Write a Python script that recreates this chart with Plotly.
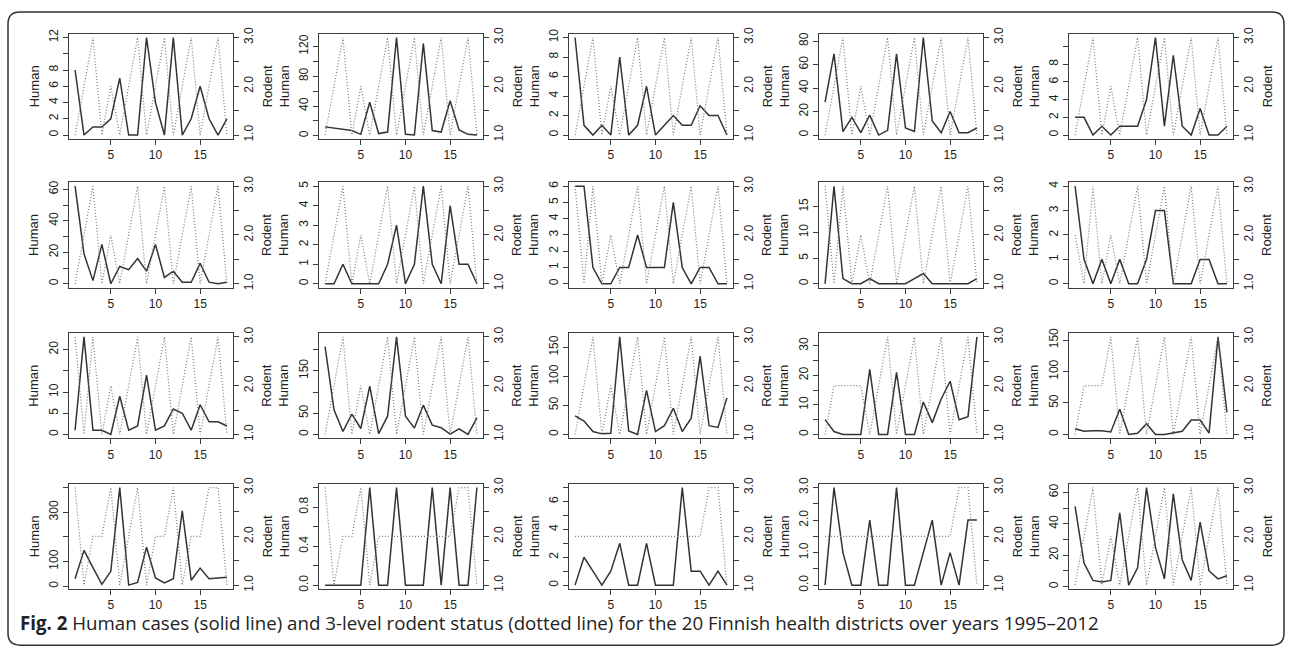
import plotly.graph_objects as go

years = list(range(1, 19))

# Human cases per district (index 1..18 = years 1995-2012)
human_01 = [8, 0, 1, 1, 2, 7, 0, 0, 12, 4, 0, 12, 0, 2, 6, 2, 0, 2]
human_02 = [12, 10, 9, 7, 2, 45, 3, 5, 132, 2, 1, 124, 7, 5, 47, 8, 2, 1]
human_03 = [10, 1, 0, 1, 0, 8, 0, 1, 5, 0, 1, 2, 1, 1, 3, 2, 2, 0]
human_04 = [28, 69, 3, 15, 2, 17, 0, 4, 69, 6, 3, 83, 12, 2, 20, 2, 2, 6]
human_05 = [2, 2, 0, 1, 0, 1, 1, 1, 4, 11, 1, 9, 1, 0, 3, 0, 0, 1]
human_06 = [62, 19, 2, 25, 0, 11, 9, 16, 8, 25, 4, 8, 1, 1, 13, 1, 0, 1]
human_07 = [0, 0, 1, 0, 0, 0, 0, 1, 3, 0, 1, 5, 1, 0, 4, 1, 1, 0]
human_08 = [6, 6, 1, 0, 0, 1, 1, 3, 1, 1, 1, 5, 1, 0, 1, 1, 0, 0]
human_09 = [0, 19, 1, 0, 0, 1, 0, 0, 0, 0, 1, 2, 0, 0, 0, 0, 0, 1]
human_10 = [4, 1, 0, 1, 0, 1, 0, 0, 1, 3, 3, 0, 0, 0, 1, 1, 0, 0]
human_11 = [1, 23, 1, 1, 0, 9, 1, 2, 14, 1, 2, 6, 5, 1, 7, 3, 3, 2]
human_12 = [207, 58, 7, 48, 14, 114, 2, 43, 230, 43, 15, 69, 22, 16, 1, 13, 0, 39]
human_13 = [32, 23, 5, 1, 2, 168, 6, 0, 76, 5, 15, 45, 5, 28, 135, 15, 12, 63]
human_14 = [5, 1, 0, 0, 0, 22, 0, 0, 21, 0, 0, 11, 4, 12, 18, 5, 6, 33]
human_15 = [9, 5, 6, 6, 4, 40, 0, 2, 17, 0, 0, 2, 5, 23, 23, 2, 155, 35]
human_16 = [30, 145, 75, 7, 60, 400, 4, 15, 158, 33, 13, 30, 305, 24, 73, 30, 33, 36]
human_17 = [0, 0, 0, 0, 0, 1, 0, 0, 1, 0, 0, 0, 1, 0, 1, 0, 0, 1]
human_18 = [0, 2, 1, 0, 1, 3, 0, 0, 3, 0, 0, 0, 7, 1, 1, 0, 1, 0]
human_19 = [0, 3, 1, 0, 0, 2, 0, 0, 3, 0, 0, 1, 2, 0, 1, 0, 2, 2]
human_20 = [51, 15, 4, 3, 4, 47, 1, 12, 63, 25, 5, 59, 17, 4, 41, 10, 5, 7]

# 3-level rodent status
rodent_01 = [1, 2, 3, 1, 2, 1, 2, 3, 1, 2, 3, 1, 2, 3, 1, 2, 3, 1]
rodent_02 = [1, 2, 3, 1, 2, 1, 2, 3, 1, 2, 3, 1, 2, 3, 1, 2, 3, 1]
rodent_03 = [1, 2, 3, 1, 2, 1, 2, 3, 1, 2, 3, 1, 2, 3, 1, 2, 3, 1]
rodent_04 = [1, 2, 3, 1, 2, 1, 2, 3, 1, 2, 3, 1, 2, 3, 1, 2, 3, 1]
rodent_05 = [1, 2, 3, 1, 2, 1, 2, 3, 1, 2, 3, 1, 2, 3, 1, 2, 3, 1]
rodent_06 = [1, 2, 3, 1, 2, 1, 2, 3, 1, 2, 3, 1, 2, 3, 1, 2, 3, 1]
rodent_07 = [1, 2, 3, 1, 2, 1, 2, 3, 1, 2, 3, 1, 2, 3, 1, 2, 3, 1]
rodent_08 = [3, 1, 3, 1, 2, 1, 2, 3, 1, 2, 3, 1, 2, 3, 1, 2, 3, 1]
rodent_09 = [3, 1, 3, 1, 2, 1, 2, 3, 1, 2, 3, 1, 2, 3, 1, 2, 3, 1]
rodent_10 = [2, 1, 3, 1, 2, 1, 2, 3, 1, 2, 3, 1, 2, 3, 1, 2, 3, 1]
rodent_11 = [3, 1, 3, 1, 2, 1, 2, 3, 1, 2, 3, 1, 2, 3, 1, 2, 3, 1]
rodent_12 = [1, 2, 3, 1, 2, 1, 2, 3, 1, 2, 3, 1, 2, 3, 1, 2, 3, 1]
rodent_13 = [1, 2, 3, 1, 2, 1, 2, 3, 1, 2, 3, 1, 2, 3, 1, 2, 3, 1]
rodent_14 = [1, 2, 2, 2, 2, 1, 2, 3, 1, 2, 3, 1, 2, 3, 1, 2, 3, 1]
rodent_15 = [1, 2, 2, 2, 3, 1, 2, 3, 1, 2, 3, 1, 2, 3, 1, 2, 3, 1]
rodent_16 = [3, 1, 2, 2, 3, 1, 2, 3, 1, 2, 2, 3, 1, 2, 2, 3, 3, 1]
rodent_17 = [3, 1, 2, 2, 3, 1, 2, 2, 2, 2, 2, 2, 2, 2, 2, 3, 3, 1]
rodent_18 = [2, 2, 2, 2, 2, 2, 2, 2, 2, 2, 2, 2, 2, 2, 2, 3, 3, 1]
rodent_19 = [2, 2, 2, 2, 2, 2, 2, 2, 2, 2, 2, 2, 2, 2, 2, 3, 3, 1]
rodent_20 = [1, 2, 3, 1, 2, 1, 2, 3, 1, 2, 3, 1, 2, 3, 1, 2, 3, 1]

# Human-axis tick step and tick labels ("" = unlabelled tick)
human_tick_step = [2, 20, 2, 20, 2, 10, 1, 1, 5, 1, 5, 50, 50, 5, 50, 100, 0.2, 1, 0.5, 10]
human_tick_text = [
    ["0", "2", "4", "6", "8", "", "12"],
    ["0", "", "40", "", "80", "", "120"],
    ["0", "2", "4", "6", "8", "10"],
    ["0", "20", "40", "60", "80"],
    ["0", "2", "4", "6", "8", ""],
    ["0", "", "20", "", "40", "", "60"],
    ["0", "1", "2", "3", "4", "5"],
    ["0", "1", "2", "3", "4", "5", "6"],
    ["0", "5", "10", "15"],
    ["0", "1", "2", "3", "4"],
    ["0", "5", "10", "", "20"],
    ["0", "50", "", "150", ""],
    ["0", "50", "100", "150"],
    ["0", "", "10", "", "20", "", "30"],
    ["0", "50", "100", "150"],
    ["0", "100", "", "300", ""],
    ["0.0", "", "0.4", "", "0.8", ""],
    ["0", "", "2", "", "4", "", "6", ""],
    ["0.0", "", "1.0", "", "2.0", "", "3.0"],
    ["0", "", "20", "", "40", "", "60"],
]
rodent_tick_vals = [1, 1.5, 2, 2.5, 3]
rodent_tick_text = ["1.0", "", "2.0", "", "3.0"]
x_tick_vals = [5, 10, 15]

caption_bold = "Fig. 2"
caption_text = ("Human cases (solid line) and 3-level rodent status (dotted line) "
                "for the 20 Finnish health districts over years 1995\u20132012")

humans = [human_01, human_02, human_03, human_04, human_05, human_06, human_07,
          human_08, human_09, human_10, human_11, human_12, human_13, human_14,
          human_15, human_16, human_17, human_18, human_19, human_20]
rodents = [rodent_01, rodent_02, rodent_03, rodent_04, rodent_05, rodent_06, rodent_07,
           rodent_08, rodent_09, rodent_10, rodent_11, rodent_12, rodent_13, rodent_14,
           rodent_15, rodent_16, rodent_17, rodent_18, rodent_19, rodent_20]

W, H = 1290, 659
FONT = "Liberation Sans, Arial, sans-serif"
AX = "#3c3c3c"
col_left = [69 + 250 * c for c in range(5)]
panel_w = 164
row_top = [27, 178, 331, 484]
panel_h = 107


def px(x):
    return x / W


def py(y):
    return 1 - y / H


def rng(lo, hi):
    d = (hi - lo) * 0.04
    return [lo - d, hi + d]


fig = go.Figure()
layout = {}
annotations = []
for i in range(20):
    r, c = divmod(i, 5)
    n = i + 1
    xa = "x" if n == 1 else f"x{n}"
    ya_h = f"y{2 * n - 1}" if n > 1 else "y"
    ya_r = f"y{2 * n}"
    hv = humans[i]
    rv = rodents[i]
    fig.add_trace(go.Scatter(x=years, y=hv, mode="lines", xaxis=xa, yaxis=ya_h,
                             line=dict(color="#333333", width=1.5), showlegend=False,
                             hoverinfo="skip"))
    fig.add_trace(go.Scatter(x=years, y=rv, mode="lines", xaxis=xa, yaxis=ya_r,
                             line=dict(color="#7a7a7a", width=1.2, dash="1px,2px"),
                             showlegend=False, hoverinfo="skip"))
    x0, x1 = col_left[c], col_left[c] + panel_w
    y0, y1 = row_top[r], row_top[r] + panel_h
    xdom = [px(x0), px(x1)]
    ydom = [py(y1), py(y0)]
    common_tick = dict(ticks="outside", ticklen=5, tickwidth=1, tickcolor=AX,
                       tickfont=dict(family=FONT, size=12, color="#222222"),
                       showgrid=False, zeroline=False)
    xkey = "xaxis" if n == 1 else f"xaxis{n}"
    layout[xkey] = dict(domain=xdom, anchor=ya_h, range=rng(min(years), max(years)),
                        tickvals=x_tick_vals, showline=True, mirror=True,
                        linecolor=AX, linewidth=1, **common_tick)
    step = human_tick_step[i]
    texts = human_tick_text[i]
    tvals = [round(k * step, 6) for k in range(len(texts))]
    hkey = "yaxis" if n == 1 else f"yaxis{2 * n - 1}"
    layout[hkey] = dict(domain=ydom, anchor=xa, range=rng(min(hv), max(hv)),
                        tickvals=tvals, ticktext=texts, tickangle=-90,
                        showline=True, mirror=True, linecolor=AX, linewidth=1,
                        **common_tick)
    layout[f"yaxis{2 * n}"] = dict(domain=ydom, anchor=xa, overlaying=ya_h, side="right",
                                   range=rng(1, 3), tickvals=rodent_tick_vals,
                                   ticktext=rodent_tick_text, tickangle=-90,
                                   showline=False, **common_tick)
    ymid = py((y0 + y1) / 2)
    annotations.append(dict(text="Human", x=px(x0 - 35), y=ymid, xref="paper", yref="paper",
                            textangle=-90, showarrow=False, xanchor="center", yanchor="middle",
                            font=dict(family=FONT, size=13, color="#222222")))
    annotations.append(dict(text="Rodent", x=px(x1 + 34), y=ymid, xref="paper", yref="paper",
                            textangle=-90, showarrow=False, xanchor="center", yanchor="middle",
                            font=dict(family=FONT, size=13, color="#222222")))

annotations.append(dict(text=f"<b>{caption_bold}</b> {caption_text}", x=px(18), y=py(625),
                        xref="paper", yref="paper", xanchor="left", yanchor="middle",
                        showarrow=False,
                        font=dict(family="Open Sans, sans-serif", size=18.7, color="#222222")))

# rounded frame
bx0, bx1, by0, by1 = px(8), px(1284), py(648), py(5)
rx, ry = 12 / W, 12 / H
path = (f"M {bx0 + rx},{by1} L {bx1 - rx},{by1} Q {bx1},{by1} {bx1},{by1 - ry} "
        f"L {bx1},{by0 + ry} Q {bx1},{by0} {bx1 - rx},{by0} L {bx0 + rx},{by0} "
        f"Q {bx0},{by0} {bx0},{by0 + ry} L {bx0},{by1 - ry} Q {bx0},{by1} {bx0 + rx},{by1} Z")

fig.update_layout(width=W, height=H, margin=dict(l=0, r=0, t=0, b=0),
                  paper_bgcolor="white", plot_bgcolor="white",
                  annotations=annotations,
                  shapes=[dict(type="path", path=path, xref="paper", yref="paper",
                               line=dict(color="#333333", width=1.5))],
                  **layout)
fig.write_html("out.html", config={"displayModeBar": False},
               post_script="document.body.style.margin='0';document.body.style.overflow='hidden';")
